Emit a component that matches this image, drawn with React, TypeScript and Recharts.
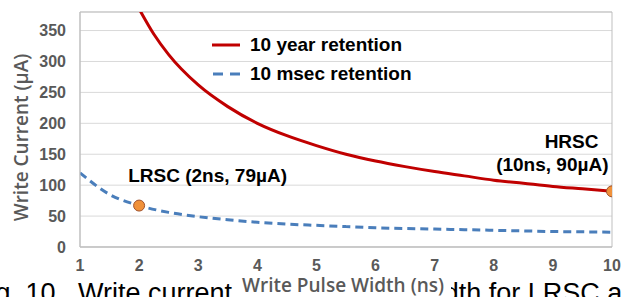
import {
  LineChart,
  Line,
  Scatter,
  XAxis,
  YAxis,
  CartesianGrid,
  ReferenceArea,
} from "recharts";

const X_TICKS = [1, 2, 3, 4, 5, 6, 7, 8, 9, 10];
const Y_TICKS = [0, 50, 100, 150, 200, 250, 300, 350];

// 10 year retention (red, solid)
const YEAR_X = [2, 2.25, 2.5, 3, 3.5, 4, 4.5, 5, 5.5, 6, 6.5, 7, 7.5, 8, 8.5, 9, 9.5, 10];
const YEAR_Y = [385, 344, 311, 262, 227, 200, 180, 164, 150, 139, 130, 122, 115, 108, 103, 98, 94, 90];

// 10 msec retention (blue, dashed)
const MSEC_X = [1, 1.5, 2, 2.5, 3, 3.5, 4, 4.5, 5, 5.5, 6, 6.5, 7, 7.5, 8, 8.5, 9, 9.5, 10];
const MSEC_Y = [120, 85, 67, 56, 49, 44, 40, 37, 35, 33, 31, 30, 29, 28, 27, 26, 25, 24.5, 24];

// highlighted operating points
const POINT_NAMES = ["LRSC", "HRSC"];
const POINT_X = [2, 10];
const POINT_Y = [67, 90];

const yearData = YEAR_X.map((x, i) => ({ x, y: YEAR_Y[i] }));
const msecData = MSEC_X.map((x, i) => ({ x, y: MSEC_Y[i] }));
const pointData = POINT_X.map((x, i) => ({ x, y: POINT_Y[i], name: POINT_NAMES[i] }));

const RED = "#C00000";
const BLUE = "#4A7EBB";
const GRAY = "#595959";
const FONT = "'Liberation Sans', Arial, sans-serif";
const TITLE_FONT = "'Open Sans', sans-serif";

function PointLabel(props: any) {
  const { x, y, index } = props;
  const style = { fontFamily: FONT, fontWeight: 700, fontSize: 19, fill: "#000" };
  if (index === 0) {
    return (
      <text x={x + 73} y={y - 19} textAnchor="middle" style={style}>
        LRSC (2ns, 79µA)
      </text>
    );
  }
  return (
    <g>
      <text x={x - 9} y={y - 39} textAnchor="end" style={style}>
        HRSC
      </text>
      <text x={x + 1} y={y - 16} textAnchor="end" style={style}>
        (10ns, 90µA)
      </text>
    </g>
  );
}

function XTitle(props: any) {
  const { viewBox } = props;
  const cx = viewBox.x + viewBox.width / 2 - 3;
  return (
    <g>
      <rect x={cx - 108} y={276} width={216} height={21} fill="#fff" />
      <text
        x={cx}
        y={292}
        textAnchor="middle"
        style={{ fontFamily: TITLE_FONT, fontWeight: 600, fontSize: 19, fill: GRAY }}
      >
        Write Pulse Width (ns)
      </text>
    </g>
  );
}

function LegendBox() {
  const row = { display: "flex", alignItems: "center", height: 29 };
  const text = { fontFamily: FONT, fontWeight: 700, fontSize: 19, color: "#000", marginLeft: 10 };
  return (
    <div style={{ position: "absolute", left: 212, top: 30 }}>
      <div style={row}>
        <svg width={28} height={6}>
          <line x1={0} y1={3} x2={28} y2={3} stroke={RED} strokeWidth={3} />
        </svg>
        <span style={text}>10 year retention</span>
      </div>
      <div style={row}>
        <svg width={28} height={6}>
          <line x1={1} y1={3} x2={28} y2={3} stroke={BLUE} strokeWidth={3} strokeDasharray="10 7" />
        </svg>
        <span style={text}>10 msec retention</span>
      </div>
    </div>
  );
}

export default function App() {
  return (
    <div
      style={{
        position: "fixed",
        left: 0,
        top: 0,
        width: 623,
        height: 297,
        overflow: "hidden",
        background: "#fff",
      }}
    >
      <div
        style={{
          position: "absolute",
          left: -27,
          top: 279,
          whiteSpace: "pre",
          fontFamily: FONT,
          fontSize: 27,
          lineHeight: "28px",
          color: "#000",
        }}
      >
        Fig. 10.  Write current vs. write pulse width for LRSC and HRSC.
      </div>
      <div style={{ position: "absolute", left: 0, top: 0 }}>
        <LineChart
          width={623}
          height={297}
          margin={{ top: 12, right: 11, bottom: 0, left: 0 }}
        >
          <CartesianGrid vertical={false} stroke="#D9D9D9" />
          <XAxis
            dataKey="x"
            type="number"
            domain={[1, 10]}
            ticks={X_TICKS}
            allowDataOverflow
            height={50}
            tickLine={false}
            tickMargin={7}
            axisLine={{ stroke: "#BFBFBF" }}
            tick={{ fontFamily: FONT, fontWeight: 700, fontSize: 16, fill: GRAY }}
            label={<XTitle />}
          />
          <YAxis
            type="number"
            domain={[0, 380]}
            ticks={Y_TICKS}
            allowDataOverflow
            width={80}
            tickLine={false}
            tickMargin={8}
            axisLine={{ stroke: "#BFBFBF" }}
            tick={{ fontFamily: FONT, fontWeight: 700, fontSize: 16, fill: GRAY }}
            label={{
              value: "Write Current (µA)",
              angle: -90,
              position: "insideLeft",
              dx: 16,
              dy: 8,
              style: {
                fontFamily: TITLE_FONT,
                fontWeight: 600,
                fontSize: 19,
                fill: GRAY,
                textAnchor: "middle",
              },
            }}
          />
          <ReferenceArea
            x1={1}
            x2={10}
            y1={0}
            y2={380}
            fill="none"
            stroke="#BFBFBF"
            strokeWidth={1}
          />
          <Line
            data={yearData}
            dataKey="y"
            type="monotone"
            stroke={RED}
            strokeWidth={3}
            dot={false}
            activeDot={false}
            isAnimationActive={false}
          />
          <Line
            data={msecData}
            dataKey="y"
            type="monotone"
            stroke={BLUE}
            strokeWidth={3}
            strokeDasharray="8 5"
            dot={false}
            activeDot={false}
            isAnimationActive={false}
          />
          <Scatter
            data={pointData}
            dataKey="y"
            fill="#F0913A"
            shape={(p: any) => (
              <circle cx={p.cx} cy={p.cy} r={5.5} fill="#F0913A" stroke="#A0522D" strokeWidth={1} />
            )}
            label={<PointLabel />}
            isAnimationActive={false}
          />
        </LineChart>
      </div>
      <LegendBox />
    </div>
  );
}
